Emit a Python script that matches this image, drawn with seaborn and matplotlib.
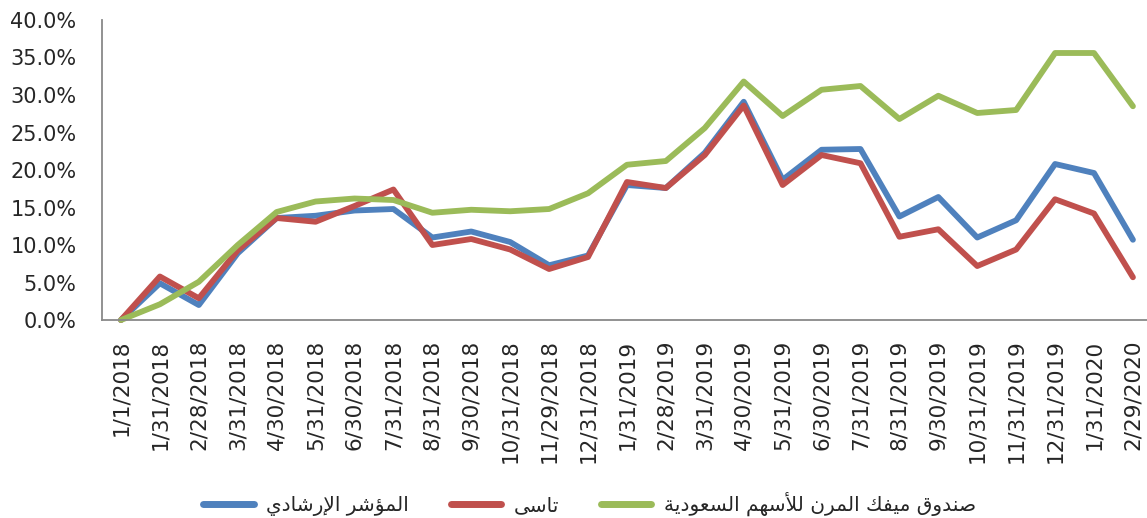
import numpy as np
import pandas as pd
import seaborn as sns
import matplotlib.pyplot as plt
from matplotlib.ticker import PercentFormatter, FixedLocator

# --- Data ---
dates = ["1/1/2018", "1/31/2018", "2/28/2018", "3/31/2018", "4/30/2018", "5/31/2018",
         "6/30/2018", "7/31/2018", "8/31/2018", "9/30/2018", "10/31/2018", "11/29/2018",
         "12/31/2018", "1/31/2019", "2/28/2019", "3/31/2019", "4/30/2019", "5/31/2019",
         "6/30/2019", "7/31/2019", "8/31/2019", "9/30/2019", "10/31/2019", "11/31/2019",
         "12/31/2019", "1/31/2020", "2/29/2020"]
benchmark = [0.0, 4.9, 2.0, 8.9, 13.6, 13.9, 14.6, 14.8, 11.0, 11.8, 10.4, 7.3,
             8.6, 18.0, 17.6, 22.3, 29.1, 18.7, 22.7, 22.8, 13.8, 16.4, 11.0, 13.3,
             20.8, 19.6, 10.7]
tasi = [0.0, 5.8, 2.9, 9.3, 13.6, 13.1, 15.2, 17.4, 10.0, 10.8, 9.4, 6.8,
        8.4, 18.4, 17.6, 22.0, 28.6, 18.0, 22.0, 20.9, 11.1, 12.1, 7.2, 9.4,
        16.1, 14.2, 5.7]
fund = [0.0, 2.1, 5.1, 10.0, 14.4, 15.8, 16.2, 16.0, 14.3, 14.7, 14.5, 14.8,
        16.9, 20.7, 21.2, 25.6, 31.8, 27.2, 30.7, 31.2, 26.8, 29.9, 27.6, 28.0,
        35.6, 35.6, 28.5]

series_names = ["المؤشر الإرشادي", "تاسى", "صندوق ميفك المرن للأسهم السعودية"]
series_values = [benchmark, tasi, fund]
series_colors = ["#4F81BD", "#C0504D", "#9BBB59"]

# --- minimal Arabic shaping (matplotlib has no complex text layout) ---
FORMS = {  # isolated, final, initial, medial
    'ا': (0xFE8D, 0xFE8E, None, None), 'أ': (0xFE83, 0xFE84, None, None),
    'إ': (0xFE87, 0xFE88, None, None), 'ؤ': (0xFE85, 0xFE86, None, None),
    'ة': (0xFE93, 0xFE94, None, None), 'د': (0xFEA9, 0xFEAA, None, None),
    'ر': (0xFEAD, 0xFEAE, None, None), 'و': (0xFEED, 0xFEEE, None, None),
    'ى': (0xFEEF, 0xFEF0, None, None),
    'ت': (0xFE95, 0xFE96, 0xFE97, 0xFE98), 'س': (0xFEB1, 0xFEB2, 0xFEB3, 0xFEB4),
    'ش': (0xFEB5, 0xFEB6, 0xFEB7, 0xFEB8), 'ص': (0xFEB9, 0xFEBA, 0xFEBB, 0xFEBC),
    'ع': (0xFEC9, 0xFECA, 0xFECB, 0xFECC), 'ف': (0xFED1, 0xFED2, 0xFED3, 0xFED4),
    'ق': (0xFED5, 0xFED6, 0xFED7, 0xFED8), 'ك': (0xFED9, 0xFEDA, 0xFEDB, 0xFEDC),
    'ل': (0xFEDD, 0xFEDE, 0xFEDF, 0xFEE0), 'م': (0xFEE1, 0xFEE2, 0xFEE3, 0xFEE4),
    'ن': (0xFEE5, 0xFEE6, 0xFEE7, 0xFEE8), 'ه': (0xFEE9, 0xFEEA, 0xFEEB, 0xFEEC),
    'ي': (0xFEF1, 0xFEF2, 0xFEF3, 0xFEF4),
}
LAM_ALEF = {'ا': (0xFEFB, 0xFEFC), 'أ': (0xFEF7, 0xFEF8), 'إ': (0xFEF9, 0xFEFA)}


def shape_arabic(text):
    out = []
    i, n = 0, len(text)
    while i < n:
        c = text[i]
        if c not in FORMS:
            out.append(c)
            i += 1
            continue
        prev = i > 0 and text[i - 1] in FORMS and FORMS[text[i - 1]][2] is not None
        if c == 'ل' and i + 1 < n and text[i + 1] in LAM_ALEF:
            iso, fin = LAM_ALEF[text[i + 1]]
            out.append(chr(fin if prev else iso))
            i += 2
            continue
        f = FORMS[c]
        nxt = f[2] is not None and i + 1 < n and text[i + 1] in FORMS
        if prev and nxt:
            out.append(chr(f[3]))
        elif prev:
            out.append(chr(f[1]))
        elif nxt:
            out.append(chr(f[2]))
        else:
            out.append(chr(f[0]))
        i += 1
    return ''.join(reversed(out))


sns.set_style("white")
plt.rcParams['font.family'] = ['DejaVu Sans']

fig = plt.figure(figsize=(11.47, 5.18), dpi=100)
ax = fig.add_axes([0.0885, 0.3822, 0.9162, 0.5792])

x = np.arange(len(dates))
for name, vals, col in zip(series_names, series_values, series_colors):
    df = pd.DataFrame({"x": x, "y": np.array(vals) / 100})
    sns.lineplot(data=df, x="x", y="y", color=col, linewidth=4.2, ax=ax,
                 label=shape_arabic(name), clip_on=False,
                 solid_capstyle="round", solid_joinstyle="round")

ax.set_xlim(-0.5, len(dates) - 0.5)
ax.set_ylim(0, 0.40)
ax.set_yticks(np.arange(0, 0.401, 0.05))
ax.yaxis.set_major_formatter(PercentFormatter(1, decimals=1))

# tick marks between categories, labels at category centres
ax.xaxis.set_major_locator(FixedLocator(np.arange(-0.5, len(dates), 1)))
ax.xaxis.set_major_formatter(plt.NullFormatter())
ax.xaxis.set_minor_locator(FixedLocator(x))
ax.set_xticklabels(dates, minor=True, rotation=90)

axis_col = "#898989"
ax.tick_params(axis="x", which="major", length=6, width=1.3, color=axis_col, direction="out")
ax.tick_params(axis="x", which="minor", length=0, labelsize=15.5, pad=14)
ax.tick_params(axis="y", length=6, width=1.3, color=axis_col, labelsize=15, pad=12)
ax.set_xlabel("")
ax.set_ylabel("")
for side in ["top", "right"]:
    ax.spines[side].set_visible(False)
for side in ["left", "bottom"]:
    ax.spines[side].set_color(axis_col)
    ax.spines[side].set_linewidth(1.3)
ax.grid(False)

handles, labels = ax.get_legend_handles_labels()
ax.get_legend().remove()
leg = fig.legend(handles, labels, loc="center", bbox_to_anchor=(0.514, 0.027), ncol=3,
                 frameon=False, fontsize=14.5, handlelength=2.5, handletextpad=0.6,
                 columnspacing=2.1)
for h in leg.get_lines():
    h.set_linewidth(5.0)
    h.set_solid_capstyle("round")

fig.savefig("out.png", dpi=100)
